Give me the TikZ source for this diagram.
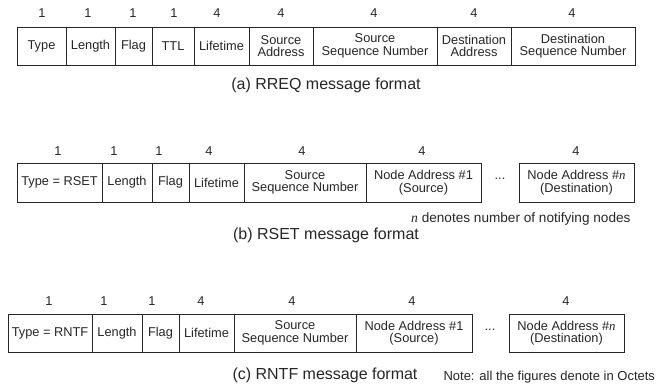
\documentclass[tikz,border=0pt]{standalone}
\usepackage{fontspec}
\setmainfont{Liberation Sans}
\newfontfamily\nserif{Liberation Serif}
\usepackage{tikz}

\newcommand{\nvar}{{\nserif\itshape n}}

\begin{document}
\begin{tikzpicture}[x=1pt,y=-1pt,
		cell/.style={draw=black!85,line width=0.8pt,inner sep=0pt,minimum height=38,align=center,
			font=\fontsize{12.8}{12.6}\selectfont,text=black!85},
		num/.style={font=\fontsize{12.8}{14}\selectfont,text=black!85},
		msgcap/.style={font=\fontsize{16}{18}\selectfont,text=black!85}]
	\useasboundingbox (0,0) rectangle (659,388);
	% (a) RREQ
	\node[cell,minimum width=49] (a1) at (41.5,46) {Type};
	\node[cell,minimum width=49] (a2) at (90.5,46) {Length};
	\node[cell,minimum width=37] (a3) at (133.5,46) {Flag};
	\node[cell,minimum width=42] (a4) at (173,46) {TTL};
	\node[cell,minimum width=55] (a5) at (221.5,46) {Lifetime};
	\node[cell,minimum width=64] (a6) at (281,46) {Source\\Address};
	\node[cell,minimum width=124] (a7) at (375,46) {Source\\Sequence Number};
	\node[cell,minimum width=74] (a8) at (474,46) {Destination\\Address};
	\node[cell,minimum width=124] (a9) at (573,46) {Destination\\Sequence Number};
	\node[num] (na1) at (42,13) {1};
	\node[num] (na2) at (88,13) {1};
	\node[num] (na3) at (133,13) {1};
	\node[num] (na4) at (174,13) {1};
	\node[num] (na5) at (217,13) {4};
	\node[num] (na6) at (281,13) {4};
	\node[num] (na7) at (374,13) {4};
	\node[num] (na8) at (474,13) {4};
	\node[num] (na9) at (572,13) {4};
	\node[msgcap] (capa) at (326,85) {(a) RREQ message format};
	% (b) RSET
	\node[cell,minimum width=85,minimum height=39] (b1) at (59.5,182.5) {Type = RSET};
	\node[cell,minimum width=50,minimum height=39] (b2) at (127,182.5) {Length};
	\node[cell,minimum width=37,minimum height=39] (b3) at (170.5,182.5) {Flag};
	\node[cell,minimum width=55,minimum height=39] (b4) at (216.5,182.5) {Lifetime};
	\node[cell,minimum width=122,minimum height=39] (b5) at (305,182.5) {Source\\Sequence Number};
	\node[cell,minimum width=115,minimum height=39] (b6) at (423.5,182.5) {Node Address \#1\\(Source)};
	\node[num] (bdots) at (500,179) {...};
	\node[cell,minimum width=115,minimum height=39] (b7) at (576.5,182.5) {Node Address \#\nvar\\(Destination)};
	\node[num] (nb1) at (58,151) {1};
	\node[num] (nb2) at (114,151) {1};
	\node[num] (nb3) at (159,151) {1};
	\node[num] (nb4) at (209,151) {4};
	\node[num] (nb5) at (302,151) {4};
	\node[num] (nb6) at (422,151) {4};
	\node[num] (nb7) at (576,151) {4};
	\node[num,anchor=east,font=\fontsize{13.6}{15}\selectfont] (nnote) at (634,219) {\nvar{} denotes number of notifying nodes};
	\node[msgcap] (capb) at (326,235) {(b) RSET message format};
	% (c) RNTF
	\node[cell,minimum width=84] (c1) at (50,333) {Type = RNTF};
	\node[cell,minimum width=50] (c2) at (117,333) {Length};
	\node[cell,minimum width=37] (c3) at (160.5,333) {Flag};
	\node[cell,minimum width=55] (c4) at (206.5,333) {Lifetime};
	\node[cell,minimum width=122] (c5) at (295,333) {Source\\Sequence Number};
	\node[cell,minimum width=116] (c6) at (414,333) {Node Address \#1\\(Source)};
	\node[num] (cdots) at (490,330) {...};
	\node[cell,minimum width=115] (c7) at (566.5,333) {Node Address \#\nvar\\(Destination)};
	\node[num] (nc1) at (49,301) {1};
	\node[num] (nc2) at (104,301) {1};
	\node[num] (nc3) at (152,301) {1};
	\node[num] (nc4) at (201,301) {4};
	\node[num] (nc5) at (292,301) {4};
	\node[num] (nc6) at (412,301) {4};
	\node[num] (nc7) at (566,301) {4};
	\node[msgcap] (capc) at (325,375) {(c) RNTF message format};
	\node[num,anchor=west,font=\fontsize{13}{15}\selectfont] (octets) at (440,377) {Note: all the figures denote in Octets};
\end{tikzpicture}
\end{document}
